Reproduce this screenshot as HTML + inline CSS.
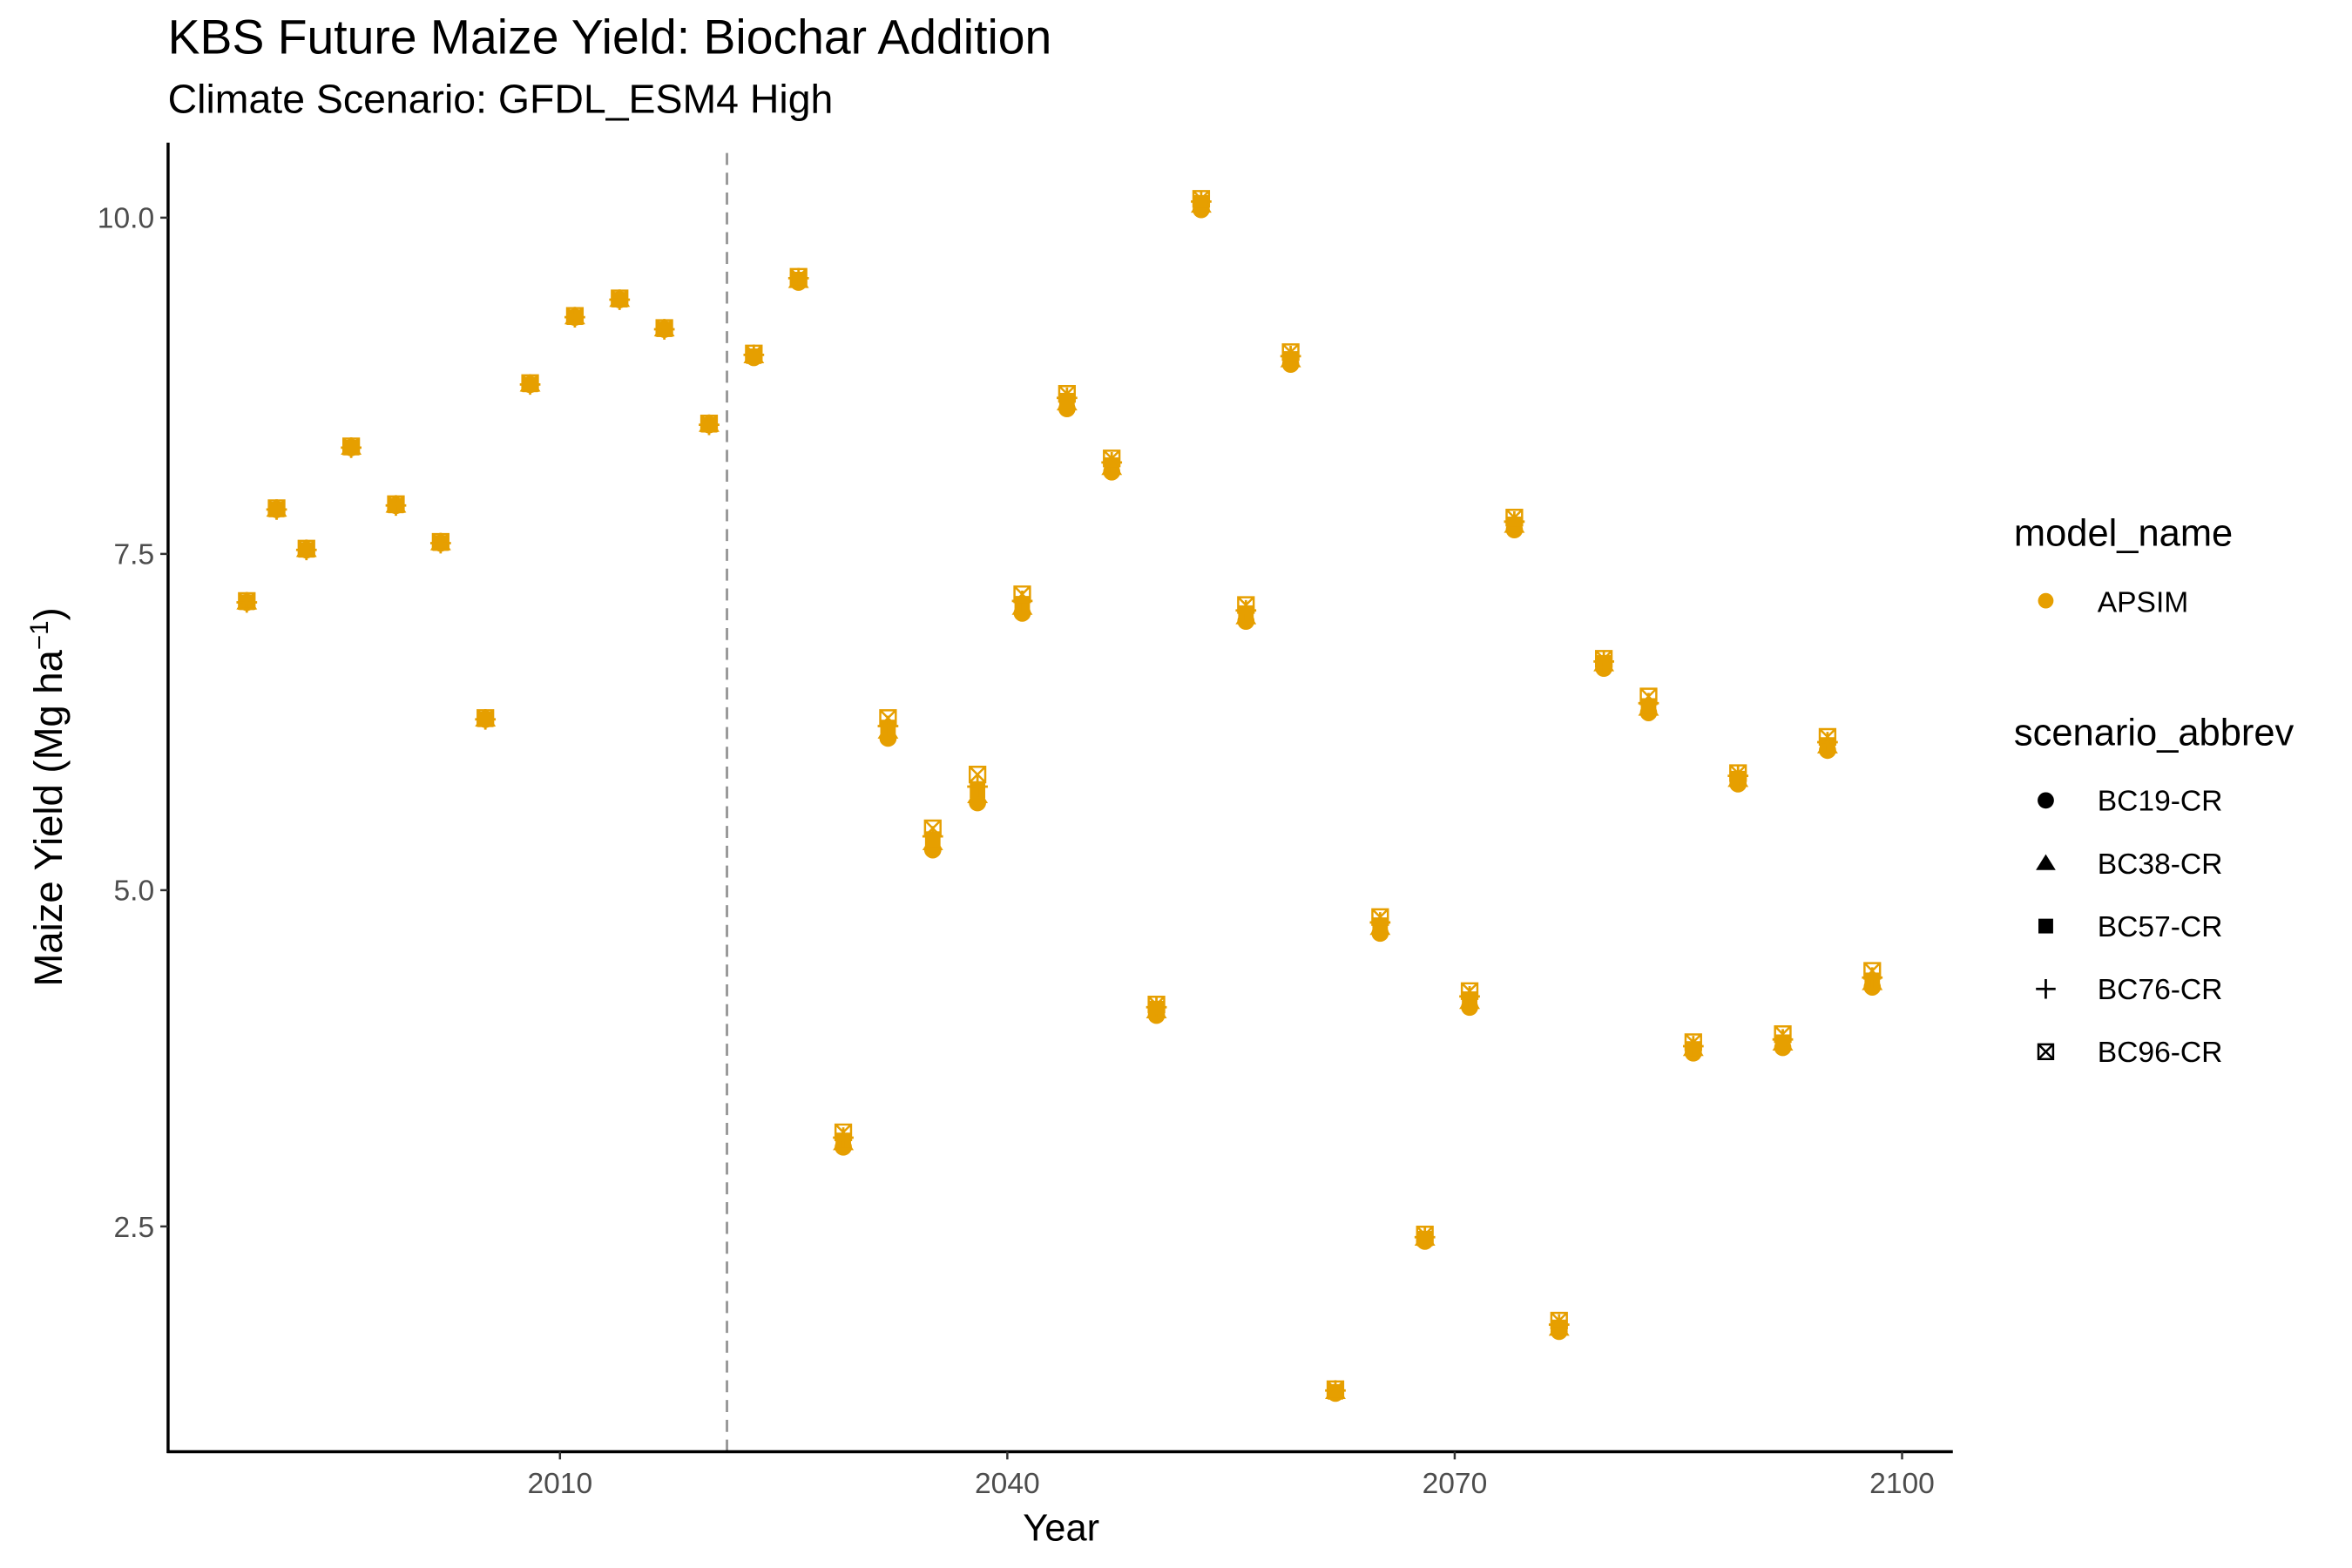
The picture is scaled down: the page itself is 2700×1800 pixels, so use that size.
<!DOCTYPE html>
<html><head><meta charset="utf-8">
<style>
html,body{margin:0;padding:0;background:#fff;}
svg{display:block;font-family:"Liberation Sans",Arial,sans-serif;}
</style></head>
<body>
<svg id="chart" width="2700" height="1800" viewBox="0 0 2700 1800" xmlns="http://www.w3.org/2000/svg">
<g transform="scale(0.988)">
<text x="195" y="62" font-size="56" fill="#000">KBS Future Maize Yield: Biochar Addition</text>
<text x="195" y="131" font-size="47" fill="#000">Climate Scenario: GFDL_ESM4 High</text>
<g id="axes"></g>
<g id="marks"></g>
<text x="1233" y="1790" font-size="44" text-anchor="middle" fill="#000">Year</text>
<text transform="translate(72,926) rotate(-90)" font-size="46" text-anchor="middle" fill="#000">Maize Yield (Mg ha<tspan baseline-shift="super" font-size="30">−1</tspan>)</text>
<g id="legend">
  <text x="2340" y="634" font-size="44" fill="#000">model_name</text>
  <circle cx="2377" cy="698" r="9" fill="#E69F00"/>
  <text x="2437" y="711" font-size="34" fill="#000">APSIM</text>
  <text x="2340" y="866" font-size="44" fill="#000">scenario_abbrev</text>
  <g id="legend-scen"></g>
</g>
</g>
</svg>
<script>
const years = [1989,1991,1993,1996,1999,2002,2005,2008,2011,2014,2017,2020,2023,2026,2029,2032,2035,2038,2041,2044,2047,2050,2053,2056,2059,2062,2065,2068,2071,2074,2077,2080,2083,2086,2089,2092,2095,2098];
const bc19 = [7.14,7.83,7.53,8.29,7.86,7.58,6.27,8.76,9.26,9.39,9.17,8.46,8.96,9.52,3.09,6.13,5.30,5.65,7.06,8.58,8.11,4.07,10.06,7.00,8.91,1.26,4.68,2.39,4.13,7.68,1.72,6.65,6.32,3.79,5.79,3.83,6.04,4.28];
const bc38 = [7.14,7.83,7.53,8.29,7.86,7.58,6.27,8.76,9.26,9.39,9.17,8.46,8.97,9.53,3.12,6.18,5.35,5.70,7.10,8.62,8.14,4.10,10.09,7.03,8.94,1.27,4.72,2.41,4.17,7.71,1.74,6.68,6.35,3.82,5.82,3.86,6.07,4.31];
const bc57 = [7.14,7.83,7.53,8.29,7.86,7.58,6.27,8.76,9.26,9.39,9.17,8.46,8.97,9.54,3.14,6.21,5.38,5.74,7.13,8.64,8.16,4.12,10.11,7.06,8.95,1.27,4.74,2.41,4.19,7.72,1.75,6.69,6.37,3.82,5.83,3.87,6.08,4.33];
const bc76 = [7.14,7.83,7.53,8.29,7.86,7.58,6.27,8.76,9.26,9.39,9.17,8.46,8.98,9.55,3.16,6.22,5.40,5.77,7.15,8.66,8.18,4.13,10.12,7.08,8.97,1.28,4.76,2.42,4.21,7.74,1.77,6.70,6.39,3.84,5.85,3.89,6.10,4.35];
const bc96 = [7.15,7.84,7.54,8.30,7.87,7.59,6.28,8.77,9.27,9.40,9.18,8.47,8.99,9.56,3.20,6.28,5.46,5.86,7.20,8.69,8.21,4.15,10.14,7.12,9.00,1.29,4.80,2.44,4.25,7.77,1.80,6.72,6.44,3.87,5.87,3.93,6.14,4.40];
const xTicks = [2010,2040,2070,2100];
const yTicks = [2.5,5.0,7.5,10.0];
const yTickLabels = ["2.5","5.0","7.5","10.0"];
const cutYear = 2021.2;

const NS="http://www.w3.org/2000/svg";
const X0=195.3, XR=2269, YB=1686.7, YT=165.7;
function xs(yr){return 650.6+(yr-2010)*17.327;}
function ys(v){return 252.9+(10-v)*156.28;}
function mk(tag,attrs,parent){const e=document.createElementNS(NS,tag);for(const k in attrs)e.setAttribute(k,attrs[k]);parent.appendChild(e);return e;}
const axes=document.getElementById('axes');
const marks=document.getElementById('marks');
const C="#E69F00";

let dl=mk('line',{x1:xs(cutYear),x2:xs(cutYear),y1:YT+12,y2:YB,stroke:'#999',"stroke-width":3,"stroke-dasharray":"14 9"},axes);



let ax=mk('line',{x1:X0,x2:X0,y1:YT,y2:YB+1.5,stroke:'#000',"stroke-width":3.5},axes);


let axx=mk('line',{x1:X0-1.5,x2:XR,y1:YB,y2:YB,stroke:'#000',"stroke-width":3.5},axes);



xTicks.forEach(t=>{
  const x=xs(t);
  const l=mk('line',{x1:x,x2:x,y1:YB,y2:YB+9,stroke:'#333',"stroke-width":2.5},axes);
  
  
  const tx=mk('text',{x:x,y:YB+48,"font-size":34,"text-anchor":"middle",fill:"#4D4D4D"},axes);
  tx.textContent=t;
  
  
});
yTicks.forEach((t,i)=>{
  const y=ys(t);
  const l=mk('line',{x1:X0-9,x2:X0,y1:y,y2:y,stroke:'#333',"stroke-width":2.5},axes);
  
  
  const tx=mk('text',{x:X0-16,y:y+12,"font-size":34,"text-anchor":"end",fill:"#4D4D4D"},axes);
  tx.textContent=yTickLabels[i];
  
  
});

function shape(kind,cx,cy,color,parent,s){
  s=s||1;
  const g=mk('g',{},parent);
  if(kind===0){mk('circle',{cx:cx,cy:cy,r:10*s,fill:color},g);}
  else if(kind===1){const h=11*s;mk('polygon',{points:`${cx},${cy-h} ${cx-h*1.1},${cy+h*0.75} ${cx+h*1.1},${cy+h*0.75}`,fill:color},g);}
  else if(kind===2){const h=9*s;mk('rect',{x:cx-h,y:cy-h,width:2*h,height:2*h,fill:color},g);}
  else if(kind===3){const h=12*s;mk('path',{d:`M${cx-h},${cy}H${cx+h}M${cx},${cy-h}V${cy+h}`,stroke:color,"stroke-width":2.8,fill:"none"},g);}
  else {const h=9*s;mk('path',{d:`M${cx-h},${cy-h}h${2*h}v${2*h}h${-2*h}zM${cx-h},${cy-h}L${cx+h},${cy+h}M${cx+h},${cy-h}L${cx-h},${cy+h}`,stroke:color,"stroke-width":2.5,fill:"none"},g);}
  return g;
}
const series=[bc19,bc38,bc57,bc76,bc96];
const sNames=["bc19-cr","bc38-cr","bc57-cr","bc76-cr","bc96-cr"];
series.forEach((arr,si)=>{
  const sg=mk('g',{},marks);
  
  
  arr.forEach((v,i)=>{
    const p=shape(si,xs(years[i]),ys(v),C,sg);
    
    
  });
});

const lg=document.getElementById('legend-scen');
const labels=["BC19-CR","BC38-CR","BC57-CR","BC76-CR","BC96-CR"];
const ly=[930,1003,1076,1149,1222];
labels.forEach((lab,i)=>{
  const k=shape(i,2377,ly[i],'#000',lg,0.95);
  
  
  const t=mk('text',{x:2437,y:ly[i]+12,"font-size":34,fill:"#000"},lg);
  t.textContent=lab;
  
  
});
</script>
</body></html>
